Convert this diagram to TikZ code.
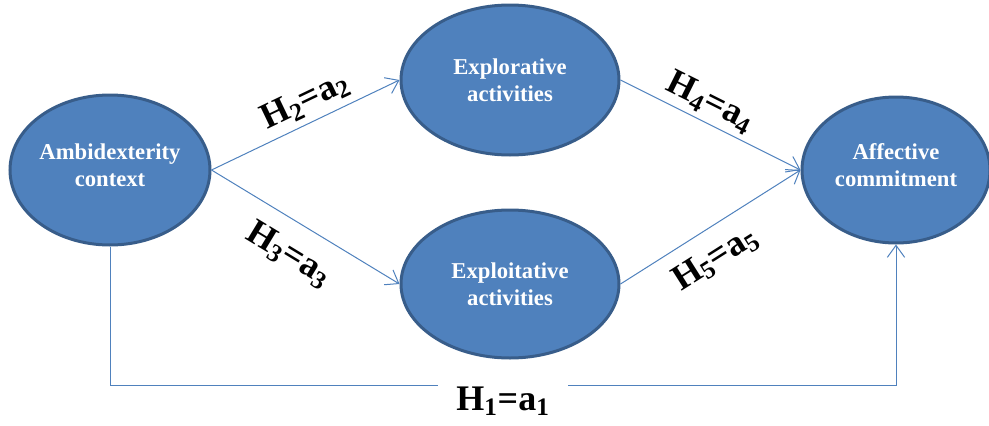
\documentclass[tikz,border=0pt]{standalone}
\usepackage{fontspec}
\setmainfont{Liberation Serif}
\usetikzlibrary{shapes.geometric,arrows.meta}
\definecolor{boxblue}{HTML}{4F81BD}
\definecolor{rimblue}{HTML}{385D8A}

\begin{document}
\begin{tikzpicture}[x=0.75pt,y=-0.75pt,
  factor/.style={ellipse,draw=rimblue,line width=2.25pt,fill=boxblue,text=white,
    font=\fontsize{17}{20}\selectfont\bfseries,align=center,inner sep=0pt},
  link/.style={draw=boxblue,line width=0.75pt,-{Straight Barb[length=9pt,width=13pt]}},
  hyp/.style={font=\fontsize{27}{30}\selectfont\bfseries,text=black,inner sep=2pt}]

\useasboundingbox (0,0) rectangle (989,425);

\node[factor,minimum width=150pt,minimum height=112.5pt,text depth=7pt] (amb) at (110,170) {Ambidexterity\\context};
\node[factor,minimum width=163.5pt,minimum height=112.5pt] (explor) at (510,80) {Explorative\\activities};
\node[factor,minimum width=163.5pt,minimum height=111pt] (exploit) at (510,284) {Exploitative\\activities};
\node[factor,minimum width=141pt,minimum height=109.5pt,text depth=7pt] (aff) at (896,170) {Affective\\commitment};

\draw[link] (amb.east) -- node[hyp,sloped,above,pos=0.55,yshift=3pt] {H\textsubscript{2}=a\textsubscript{2}} (explor.west);
\draw[link] (amb.east) -- node[hyp,sloped,below,pos=0.5,yshift=-11pt] {H\textsubscript{3}=a\textsubscript{3}} (exploit.west);
\draw[link] (explor.east) -- node[hyp,sloped,above,pos=0.45,yshift=2pt] {H\textsubscript{4}=a\textsubscript{4}} (aff.west);
\draw[link] (exploit.east) -- node[hyp,sloped,below,pos=0.44,yshift=-9pt] {H\textsubscript{5}=a\textsubscript{5}} (aff.west);

\coordinate (turn) at (896,385);
\draw[link] (amb.south) |- node[hyp,fill=white,inner xsep=14pt,pos=0.75,yshift=-12pt] {H\textsubscript{1}=a\textsubscript{1}} (turn) -- (aff.south);
\end{tikzpicture}
\end{document}
